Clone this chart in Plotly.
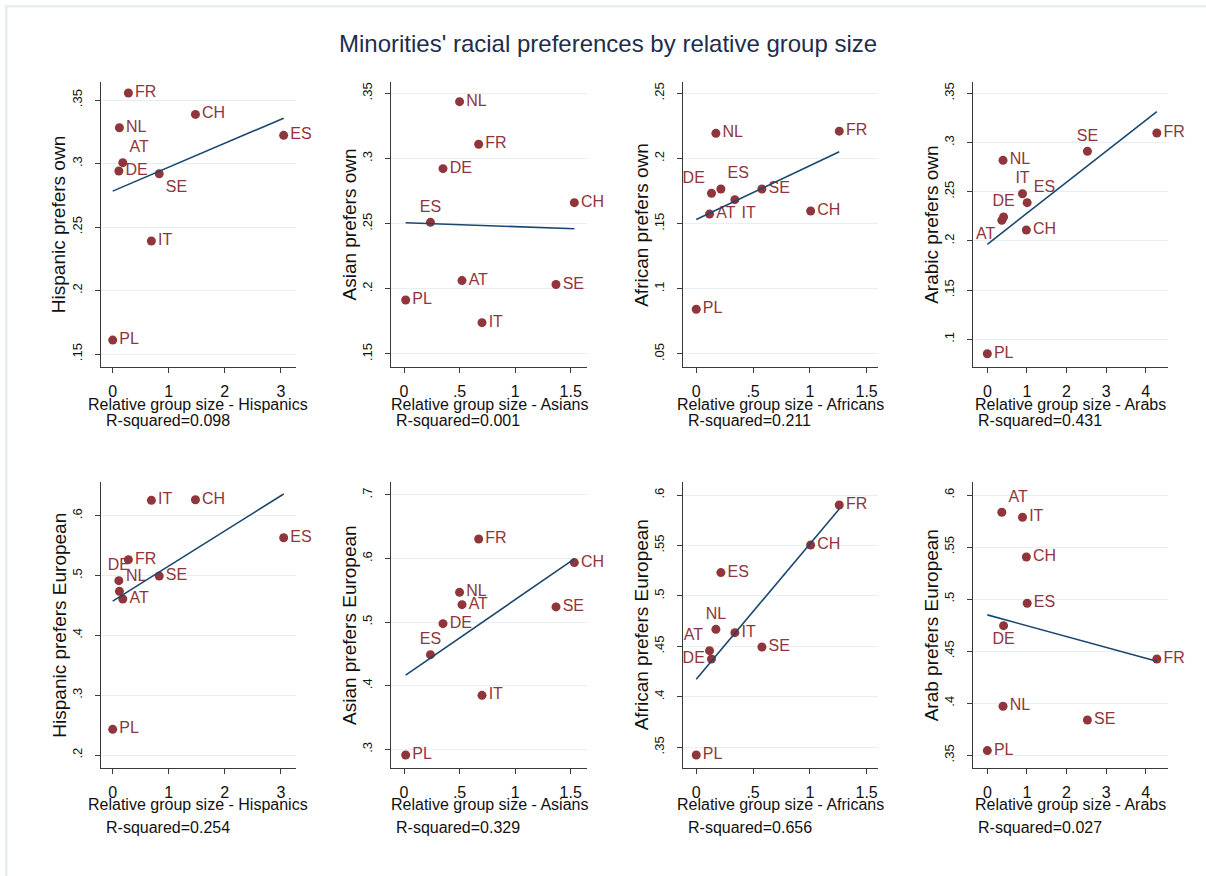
import numpy as np
import plotly.graph_objects as go

# ---------------------------------------------------------------- data
countries = ["AT", "CH", "DE", "ES", "FR", "IT", "NL", "PL", "SE"]

# relative group size of each minority, per country
size_hispanic = [0.18, 1.476, 0.11, 3.05, 0.28, 0.69, 0.12, 0.0, 0.83]
size_asian = [0.522, 1.533, 0.351, 0.238, 0.672, 0.702, 0.50, 0.015, 1.368]
size_african = [0.117, 1.007, 0.134, 0.217, 1.259, 0.340, 0.173, 0.0, 0.578]
size_arab = [0.366, 0.985, 0.41, 1.005, 4.278, 0.888, 0.396, 0.0, 2.526]

# share preferring their own group
own_hispanic = [0.3007, 0.3387, 0.2941, 0.3222, 0.3555, 0.239, 0.3282, 0.161, 0.292]
own_asian = [0.2063, 0.2661, 0.2922, 0.2510, 0.3109, 0.1740, 0.3436, 0.1914, 0.2033]
own_african = [0.1574, 0.1597, 0.1733, 0.1766, 0.2210, 0.1684, 0.2193, 0.0843, 0.1766]
own_arab = [0.2209, 0.2111, 0.2243, 0.2389, 0.3097, 0.2480, 0.2819, 0.0854, 0.2911]

# share preferring Europeans
eur_hispanic = [0.4607, 0.6267, 0.4914, 0.5632, 0.5265, 0.6256, 0.4735, 0.2429, 0.4992]
eur_asian = [0.5275, 0.5936, 0.4976, 0.4489, 0.6308, 0.3849, 0.5469, 0.2911, 0.5239]
eur_african = [0.4458, 0.5505, 0.4375, 0.5231, 0.5901, 0.4636, 0.4669, 0.3424, 0.4494]
eur_arab = [0.5834, 0.5405, 0.4745, 0.4960, 0.4425, 0.5786, 0.3971, 0.3545, 0.3839]

r2_own = ["0.098", "0.001", "0.211", "0.431"]
r2_eur = ["0.254", "0.329", "0.656", "0.027"]

group_plural = ["Hispanics", "Asians", "Africans", "Arabs"]
own_titles = ["Hispanic prefers own", "Asian prefers own", "African prefers own", "Arabic prefers own"]
eur_titles = ["Hispanic prefers European", "Asian prefers European",
              "African prefers European", "Arab prefers European"]

x_ticks = [[0, 1, 2, 3], [0, 0.5, 1, 1.5], [0, 0.5, 1, 1.5], [0, 1, 2, 3, 4]]
y_ticks_own = [[0.15, 0.2, 0.25, 0.3, 0.35], [0.15, 0.2, 0.25, 0.3, 0.35],
               [0.05, 0.1, 0.15, 0.2, 0.25], [0.1, 0.15, 0.2, 0.25, 0.3, 0.35]]
y_ticks_eur = [[0.2, 0.3, 0.4, 0.5, 0.6], [0.3, 0.4, 0.5, 0.6, 0.7],
               [0.35, 0.4, 0.45, 0.5, 0.55, 0.6], [0.35, 0.4, 0.45, 0.5, 0.55, 0.6]]

# ---------------------------------------------------------------- styling
W, H = 1206, 876
MAROON = "#90353b"
NAVY = "#1a476f"
GRID = "#e6eff1"
AXIS = "#3a3a3a"
FONT = "Arial, Liberation Sans, sans-serif"

col_px = [(100.7, 296.0), (391.0, 587.0), (683.3, 878.0), (973.3, 1168.0)]
row_px = [(82.0, 367.0), (482.0, 768.0)]

x_ranges = [[-0.214, 3.27], [-0.117, 1.647], [-0.114, 1.60], [-0.354, 4.56]]
y_ranges = [
    [[0.1398, 0.3642], [0.140, 0.3587], [0.040, 0.2587], [0.0719, 0.3615]],
    [[0.1783, 0.6563], [0.2706, 0.7204], [0.3295, 0.6129], [0.3378, 0.6125]],
]

MR, TR, TL, TC, BR, BL, BC, ML = ("middle right", "top right", "top left", "top center",
                                  "bottom right", "bottom left", "bottom center", "middle left")
# marker-label placement per panel, in the order of `countries`
label_pos = [
    [  # prefers own
        [TR, MR, MR, MR, MR, MR, MR, MR, BR],
        [MR, MR, MR, TC, MR, MR, MR, MR, MR],
        [MR, MR, TL, TR, MR, BR, MR, MR, MR],
        [BL, MR, TC, TR, MR, TC, MR, MR, TC],
    ],
    [  # prefers European
        [MR, MR, TC, MR, MR, MR, TR, MR, MR],
        [MR, MR, MR, TC, MR, MR, MR, MR, MR],
        [TL, MR, ML, MR, MR, MR, TC, MR, MR],
        [TR, MR, BC, MR, MR, MR, MR, MR, MR],
    ],
]

sizes = [size_hispanic, size_asian, size_african, size_arab]
rows = [
    dict(y=[own_hispanic, own_asian, own_african, own_arab], titles=own_titles,
         r2=r2_own, yticks=y_ticks_own, xt_y=405.0, r2_y=421.0),
    dict(y=[eur_hispanic, eur_asian, eur_african, eur_arab], titles=eur_titles,
         r2=r2_eur, yticks=y_ticks_eur, xt_y=804.0, r2_y=827.0),
]


def px(x):
    return x / W


def py(y):
    return 1 - y / H


def fmt(v):
    s = ("%g" % v)
    return s[1:] if s.startswith("0.") else s


fig = go.Figure()
layout = {}
annotations = []

for r, row in enumerate(rows):
    for c in range(4):
        k = r * 4 + c + 1
        xa, ya = f"x{k}", f"y{k}"
        xs = np.array(sizes[c], dtype=float)
        ys = np.array(row["y"][c], dtype=float)

        # country markers with labels
        fig.add_trace(go.Scatter(
            x=xs, y=ys, mode="markers+text", text=countries,
            textposition=label_pos[r][c],
            textfont=dict(family=FONT, size=16, color=MAROON),
            marker=dict(size=9, color=MAROON, line=dict(width=0)),
            xaxis=xa, yaxis=ya, showlegend=False, cliponaxis=False,
        ))

        # OLS fitted line over the observed range
        slope, intercept = np.polyfit(xs, ys, 1)
        fx = np.array([xs.min(), xs.max()])
        fig.add_trace(go.Scatter(
            x=fx, y=intercept + slope * fx, mode="lines",
            line=dict(color=NAVY, width=1.6),
            xaxis=xa, yaxis=ya, showlegend=False, hoverinfo="skip",
        ))

        x0, x1 = col_px[c]
        y0, y1 = row_px[r]
        sfx = "" if k == 1 else str(k)

        layout[f"xaxis{sfx}"] = dict(
            domain=[px(x0), px(x1)], anchor=ya, range=x_ranges[c],
            tickmode="array", tickvals=x_ticks[c], ticktext=[fmt(v) for v in x_ticks[c]],
            ticks="outside", ticklen=5, tickwidth=1, tickcolor=AXIS,
            showline=True, linecolor=AXIS, linewidth=1,
            showgrid=False, zeroline=False, ticklabelstandoff=5,
            tickfont=dict(family=FONT, size=16, color="#111"),
        )
        layout[f"yaxis{sfx}"] = dict(
            domain=[py(y1), py(y0)], anchor=xa, range=y_ranges[r][c],
            tickmode="array", tickvals=row["yticks"][c],
            ticktext=[fmt(v) for v in row["yticks"][c]],
            tickangle=-90,
            ticks="outside", ticklen=5, tickwidth=1, tickcolor=AXIS,
            showline=True, linecolor=AXIS, linewidth=1,
            showgrid=True, gridcolor=GRID, gridwidth=1.2, zeroline=False,
            ticklabelstandoff=8,
            tickfont=dict(family=FONT, size=13, color="#111"),
        )

        # axis titles and fit statistic
        annotations.append(dict(
            text=row["titles"][c], x=px(x0 - 42), y=py((y0 + y1) / 2),
            xref="paper", yref="paper", textangle=-90, showarrow=False,
            xanchor="center", yanchor="middle",
            font=dict(family=FONT, size=19, color="#111"),
        ))
        annotations.append(dict(
            text=f"Relative group size - {group_plural[c]}", x=px((x0 + x1) / 2),
            y=py(row["xt_y"]), xref="paper", yref="paper", showarrow=False,
            xanchor="center", yanchor="middle",
            font=dict(family=FONT, size=16, color="#111"),
        ))
        annotations.append(dict(
            text=f"R-squared={row['r2'][c]}", x=px(x0 + 3), y=py(row["r2_y"]),
            xref="paper", yref="paper", showarrow=False,
            xanchor="left", yanchor="middle",
            font=dict(family=FONT, size=16, color="#111"),
        ))

annotations.append(dict(
    text="Minorities' racial preferences by relative group size",
    x=px(608), y=py(43), xref="paper", yref="paper", showarrow=False,
    xanchor="center", yanchor="middle",
    font=dict(family=FONT, size=24, color="#1f2d4d"),
))

shapes = [
    dict(type="rect", xref="paper", yref="paper", x0=px(5), x1=1, y0=py(7.5), y1=py(5),
         fillcolor="#e4eef1", line=dict(width=0), layer="below"),
    dict(type="rect", xref="paper", yref="paper", x0=px(5), x1=px(7.5), y0=0, y1=py(5),
         fillcolor="#e4eef1", line=dict(width=0), layer="below"),
]

fig.update_layout(
    width=W, height=H, margin=dict(l=0, r=0, t=0, b=0),
    paper_bgcolor="white", plot_bgcolor="white",
    annotations=annotations, shapes=shapes, **layout,
)

fig.write_html("out.html")
